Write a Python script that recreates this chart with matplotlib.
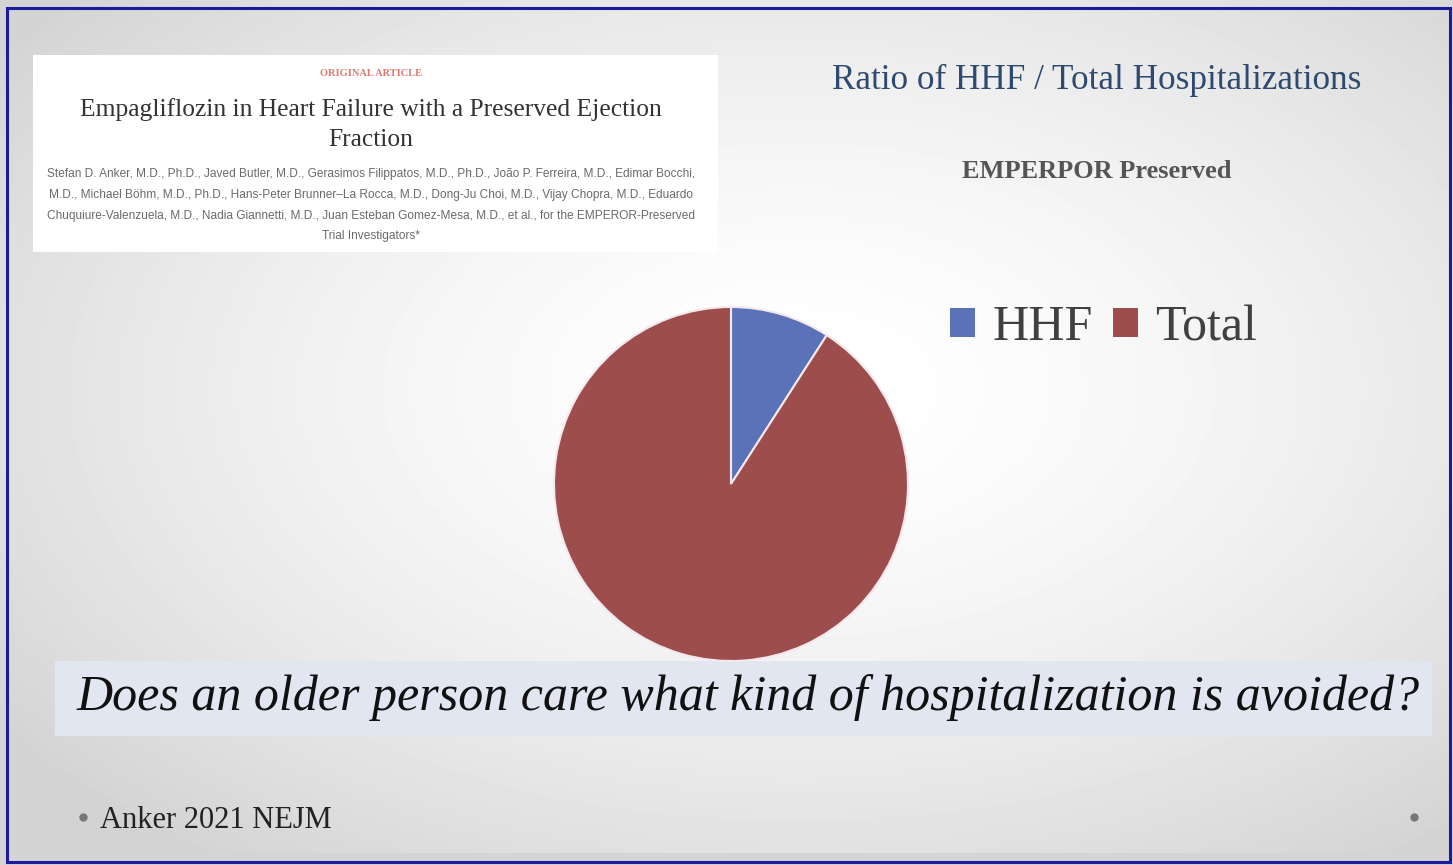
import numpy as np
import matplotlib.pyplot as plt
from matplotlib.patches import Rectangle

# data
labels = ['HHF', 'Total']
shares = [9.1, 90.9]
colors = ['#5a72b8', '#9c4d4c']

title = 'Ratio of HHF / Total Hospitalizations'
subtitle = 'EMPERPOR Preserved'
question = 'Does an older person care what kind of hospitalization is avoided?'
source = 'Anker 2021 NEJM'

paper_title = ['Empagliflozin in Heart Failure with a Preserved Ejection', 'Fraction']
paper_authors = [
    'Stefan D. Anker, M.D., Ph.D., Javed Butler, M.D., Gerasimos Filippatos, M.D., Ph.D., João P. Ferreira, M.D., Edimar Bocchi,',
    'M.D., Michael Böhm, M.D., Ph.D., Hans-Peter Brunner–La Rocca, M.D., Dong-Ju Choi, M.D., Vijay Chopra, M.D., Eduardo',
    'Chuquiure-Valenzuela, M.D., Nadia Giannetti, M.D., Juan Esteban Gomez-Mesa, M.D., et al., for the EMPEROR-Preserved',
    'Trial Investigators*',
]

W, H = 1453, 865
fig = plt.figure(figsize=(W / 100, H / 100), dpi=100)
serif = ['Liberation Serif', 'DejaVu Serif']

# slide background: soft grey vignette
bg = fig.add_axes([0, 0, 1, 1])
yy, xx = np.mgrid[0:1:200j, 0:1:300j]
r = np.sqrt(((xx - 0.55) / 0.75) ** 2 + ((yy - 0.45) / 0.75) ** 2)
shade = np.clip(1.0 - 0.2 * r ** 1.6, 0.83, 1.0)
bg.imshow(shade, cmap='gray', vmin=0, vmax=1, extent=[0, 1, 0, 1],
          aspect='auto', origin='upper')
bg.set_xlim(0, 1)
bg.set_ylim(0, 1)
bg.axis('off')


def fx(px):
    return px / W


def fy(py):
    return 1 - py / H


# darker strip at the slide bottom
bg.add_patch(Rectangle((0, 0), 1, fy(853), fc='#d4d4d4', ec='none'))

# outer blue frame
bg.add_patch(Rectangle((fx(7), fy(862)), fx(1450) - fx(7), fy(8) - fy(862),
                       fill=False, ec='#1b1b9e', lw=2.2))

# article snippet
bg.add_patch(Rectangle((fx(33), fy(252)), fx(718) - fx(33), fy(55) - fy(252),
                       fc='white', ec='none'))
fig.text(fx(371), fy(74), 'ORIGINAL ARTICLE', ha='center', va='center',
         fontsize=7.5, color='#e07a70', family=serif, weight='bold')
for i, line in enumerate(paper_title):
    fig.text(fx(371), fy(110 + 30 * i), line, ha='center', va='center',
             fontsize=18.4, color='#333333', family=serif)
for i, line in enumerate(paper_authors):
    fig.text(fx(371), fy(174 + 20.8 * i), line, ha='center', va='center',
             fontsize=8.6, color='#6a6a6a', family=['Liberation Sans Narrow', 'Liberation Sans', 'DejaVu Sans'])

# headings
fig.text(fx(1097), fy(80), title, ha='center', va='center',
         fontsize=25.3, color='#2f4a70', family=serif)
fig.text(fx(1097), fy(172), subtitle, ha='center', va='center',
         fontsize=19, color='#555555', family=serif, weight='bold')

# pie
cx, cy, rad = 731, 484, 177
ax = fig.add_axes([fx(cx - rad), fy(cy + rad), fx(2 * rad), fy(cy - rad) - fy(cy + rad)])
wedges, _ = ax.pie(shares, colors=colors, startangle=90, counterclock=False,
                   wedgeprops=dict(edgecolor='#f4e8ee', linewidth=1.5))
ax.set_xlim(-1.0, 1.0)
ax.set_ylim(-1.0, 1.0)
ax.set_aspect('equal')
ax.axis('off')

leg = fig.legend(wedges, labels, ncol=2, loc='center left', frameon=False,
                 bbox_to_anchor=(fx(950), fy(328)), borderaxespad=0, borderpad=0,
                 handlelength=0.5, handleheight=0.5, handletextpad=0.35,
                 columnspacing=0.4, labelcolor='#404040', prop=dict(family=serif, size=36))
for h in leg.legend_handles:
    h.set_edgecolor('none')

# question banner
bg.add_patch(Rectangle((fx(55), fy(736)), fx(1432) - fx(55), fy(661) - fy(736),
                       fc='#e2e6f0', ec='none'))
fig.text(fx(748), fy(698), question, ha='center', va='center',
         fontsize=36, style='italic', color='#111111', family=serif)

# footer
fig.text(fx(100), fy(820), source, ha='left', va='center',
         fontsize=22, color='#222222', family=serif)
bg.plot([fx(83), fx(1414)], [fy(817), fy(817)], 'o', ls='none', ms=5, color='#777777')

fig.savefig('out.png', dpi=100)
